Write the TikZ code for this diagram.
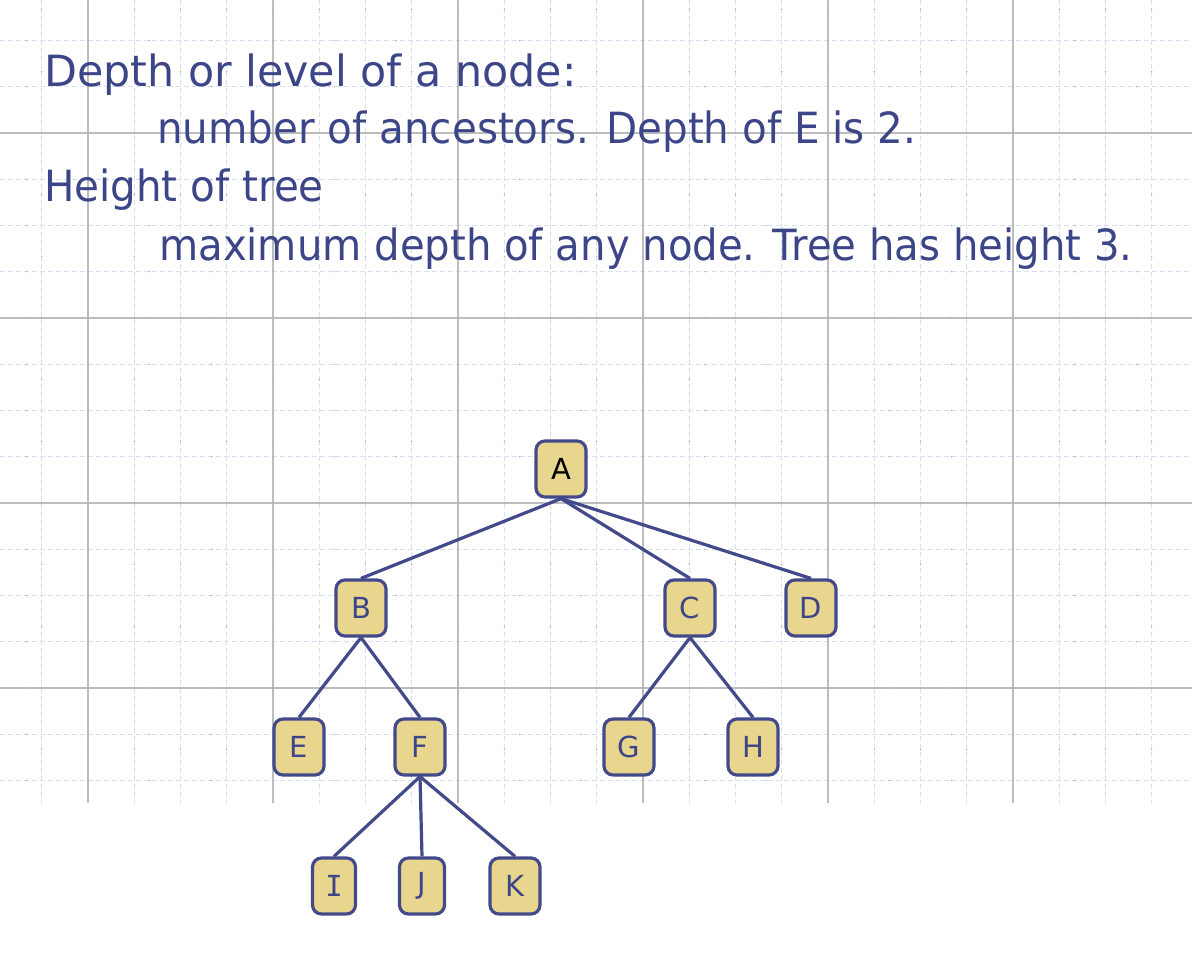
\documentclass[tikz,border=0pt]{standalone}
\usepackage{fontspec}
\setmainfont{DejaVu Sans}
\newfontfamily\monoI{DejaVu Sans Mono}
\definecolor{txtblue}{HTML}{3C4587}
\definecolor{edgeblue}{HTML}{434A8A}
\definecolor{nodefill}{HTML}{E9D68E}
\definecolor{majgrid}{HTML}{BDBDBD}
\definecolor{mingrid}{HTML}{D8DEF5}
\definecolor{dotgrid}{HTML}{ABABAB}
\begin{document}
\begin{tikzpicture}[x=1pt,y=-1pt,
  treenode/.style={draw=edgeblue, line width=3.2pt, fill=nodefill, rounded corners=9pt,
    minimum width=50pt, minimum height=56pt, inner sep=0pt,
    font=\fontsize{29}{29}\selectfont, text=txtblue},
  edge/.style={draw=edgeblue, line width=3.2pt},
  maintext/.style={anchor=base west, inner sep=0pt, text=txtblue,
    font=\fontsize{43}{43}\selectfont},
  minorline/.style={draw=mingrid, line width=1.1pt, dash pattern=on 5pt off 3pt},
  majorline/.style={draw=majgrid, line width=1.4pt}]
\useasboundingbox (0,0) rectangle (1192,972);
\fill[white] (0,0) rectangle (1192,972);
% minor grid
\foreach \n in {0,...,16} {
  \draw[minorline] (0,{40.5+46.25*\n}) -- (1192,{40.5+46.25*\n});
}
\foreach \n in {0,...,24} {
  \draw[minorline] ({41.75+46.25*\n},0) -- ({41.75+46.25*\n},803);
}
% major grid
\foreach \yy in {133,318,503,688} {
  \draw[majorline] (0,\yy) -- (1192,\yy);
}
\foreach \xx in {88,273,458,643,828,1013} {
  \draw[majorline] (\xx,0) -- (\xx,803);
}
% dots
\foreach \n in {0,...,16} {
  \foreach \i in {-1,...,18} {
    \fill[dotgrid] ({88+61.667*\i},{40.5+46.25*\n}) circle (0.7pt);
  }
}
\foreach \n in {0,...,24} {
  \foreach \j in {-2,...,10} {
    \fill[dotgrid] ({41.75+46.25*\n},{133+61.667*\j}) circle (0.7pt);
  }
}
% text
\node[maintext] (t1) at (44,86) {\scalebox{0.995}[1]{Depth or level of a node:}};
\node[maintext] (t2) at (157,143) {\scalebox{0.94}[1]{number of ancestors. Depth of E is 2.}};
\node[maintext] (t3) at (44,201) {\scalebox{0.94}[1]{Height of tree}};
\node[maintext] (t4) at (159,260) {\scalebox{0.935}[1]{maximum depth of any node. Tree has height 3.}};
% tree nodes
\node[treenode, text=black] (A) at (561,469) {A};
\node[treenode] (B) at (361,608) {B};
\node[treenode] (C) at (690,608) {C};
\node[treenode] (D) at (811,608) {D};
\node[treenode] (E) at (299,747) {E};
\node[treenode] (F) at (420,747) {F};
\node[treenode] (G) at (629,747) {G};
\node[treenode] (H) at (753,747) {H};
\node[treenode, minimum width=43pt] (I) at (334,886) {\monoI I};
\node[treenode, minimum width=45pt] (J) at (422,886) {J};
\node[treenode] (K) at (515,886) {K};
% edges
\draw[edge] (A.south) -- (B.north);
\draw[edge] (A.south) -- (C.north);
\draw[edge] (A.south) -- (D.north);
\draw[edge] (B.south) -- (E.north);
\draw[edge] (B.south) -- (F.north);
\draw[edge] (C.south) -- (G.north);
\draw[edge] (C.south) -- (H.north);
\draw[edge] (F.south) -- (I.north);
\draw[edge] (F.south) -- (J.north);
\draw[edge] (F.south) -- (K.north);
\end{tikzpicture}
\end{document}
